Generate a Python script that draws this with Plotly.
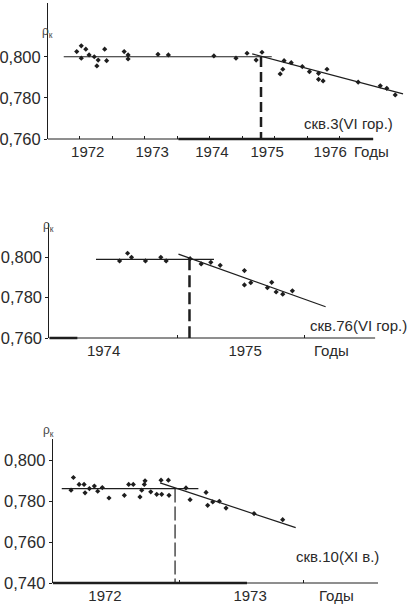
import plotly.graph_objects as go

W, H = 413, 608

# --- скв.3 (VI гор.) ---
w3_t = [1971.95, 1972.02, 1972.09, 1972.02, 1972.14, 1972.22, 1972.28, 1972.26, 1972.38, 1972.41,
        1972.68, 1972.74, 1972.74, 1973.20, 1973.36, 1974.06, 1974.40, 1974.57, 1974.71, 1974.80,
        1975.08, 1975.12, 1975.14, 1975.25, 1975.42, 1975.53, 1975.67, 1975.67, 1975.74, 1975.80,
        1976.28, 1976.62, 1976.72, 1976.85]
w3_rho = [0.8026, 0.8054, 0.8038, 0.7994, 0.8010, 0.8001, 0.7985, 0.7956, 0.8038, 0.7982,
          0.8026, 0.8010, 0.7990, 0.8013, 0.8010, 0.8005, 0.7994, 0.8018, 0.7985, 0.8023,
          0.7917, 0.7940, 0.7982, 0.7972, 0.7953, 0.7928, 0.7920, 0.7891, 0.7883, 0.7940,
          0.7877, 0.7859, 0.7847, 0.7815]
w3_flat_t = [1971.75, 1974.95]
w3_flat_rho = [0.8001, 0.8001]
w3_fall_t = [1974.65, 1976.97]
w3_fall_rho = [0.8015, 0.7820]
w3_break_t = [1974.785, 1974.785]
w3_break_rho = [0.8000, 0.7600]

# --- скв.76 (VI гор.) ---
w76_t = [1974.546, 1974.609, 1974.640, 1974.750, 1974.871, 1974.913, 1975.102, 1975.189, 1975.265,
         1975.339, 1975.530, 1975.530, 1975.580, 1975.711, 1975.745, 1975.780, 1975.832, 1975.908]
w76_rho = [0.7982, 0.8020, 0.8000, 0.7982, 0.8000, 0.7982, 0.7993, 0.7967, 0.7975,
           0.7960, 0.7934, 0.7863, 0.7874, 0.7849, 0.7876, 0.7828, 0.7817, 0.7834]
w76_flat_t = [1974.36, 1975.29]
w76_flat_rho = [0.7990, 0.7990]
w76_fall_t = [1975.01, 1976.17]
w76_fall_rho = [0.8016, 0.7755]
w76_break_t = [1975.097, 1975.097]
w76_break_rho = [0.7995, 0.7600]

# --- скв.10 (XI в.) ---
w10_t = [1972.129, 1972.148, 1972.194, 1972.234, 1972.242, 1972.277, 1972.317, 1972.344, 1972.381,
         1972.435, 1972.559, 1972.594, 1972.631, 1972.685, 1972.699, 1972.720, 1972.726, 1972.772,
         1972.820, 1972.860, 1972.855, 1972.914, 1972.919, 1973.056, 1973.089, 1973.218, 1973.231,
         1973.272, 1973.325, 1973.379, 1973.605, 1973.836]
w10_rho = [0.7853, 0.7915, 0.7881, 0.7881, 0.7840, 0.7861, 0.7873, 0.7848, 0.7866,
           0.7815, 0.7828, 0.7881, 0.7881, 0.7820, 0.7853, 0.7881, 0.7899, 0.7845,
           0.7833, 0.7833, 0.7902, 0.7902, 0.7828, 0.7864, 0.7807, 0.7842, 0.7779,
           0.7796, 0.7799, 0.7766, 0.7739, 0.7709]
w10_flat_t = [1972.054, 1973.156]
w10_flat_rho = [0.7861, 0.7861]
w10_fall_t = [1972.847, 1973.941]
w10_fall_rho = [0.7889, 0.7670]
w10_break_t = [1972.968, 1972.968]
w10_break_rho = [0.7861, 0.7400]

# tick labels
w3_years = ['1972', '1973', '1974', '1975', '1976']
w3_year_pos = [1972.12, 1973.11, 1974.03, 1974.88, 1975.85]
w3_marks = [1972, 1972.5, 1973, 1973.5, 1974, 1974.5, 1975, 1975.5, 1976]
w76_years = ['1974', '1975']
w76_year_pos = [1974.42, 1975.535]
w76_marks = [1975, 1976]
w10_years = ['1972', '1973']
w10_year_pos = [1972.403, 1973.573]
w10_marks = [1973, 1974]

INK = '#1e1e1e'
TXT = '#2a2a2a'
FONT = 'Liberation Sans, Arial, sans-serif'


def px(x):
    return x / W


def py(y):
    return 1 - y / H


panels = [
    dict(n='', xr=[1971.508, 1977.077], yr=[0.7600, 0.8263], xd=[48, 410], yd=[3, 139],
         axis_end=1976.51, thick=[1973.515, 1976.51], yt=[0.76, 0.78, 0.80],
         t=w3_t, rho=w3_rho, flat=(w3_flat_t, w3_flat_rho), fall=(w3_fall_t, w3_fall_rho),
         brk=(w3_break_t, w3_break_rho), dash=dict(width=2.5, dash='10px,5px'),
         years=w3_years, ypos=w3_year_pos, marks=w3_marks,
         label='скв.3(VI гор.)', lab_xy=(395, 113), godi=1976.48, rho_xy=(40, 22)),
    dict(n='2', xr=[1973.992, 1976.835], yr=[0.7600, 0.8170], xd=[49.3, 410], yd=[223, 338],
         axis_end=1976.56, thick=[1973.992, 1974.213], yt=[0.76, 0.78, 0.80],
         t=w76_t, rho=w76_rho, flat=(w76_flat_t, w76_flat_rho), fall=(w76_fall_t, w76_fall_rho),
         brk=(w76_break_t, w76_break_rho), dash=dict(width=2.5, dash='12px,5px'),
         years=w76_years, ypos=w76_year_pos, marks=w76_marks,
         label='скв.76(VI гор.)', lab_xy=(409, 325), godi=1976.22, rho_xy=(41, 226)),
    dict(n='3', xr=[1971.981, 1974.863], yr=[0.7400, 0.8103], xd=[52.7, 410], yd=[439, 583],
         axis_end=1974.605, thick=[1971.981, 1973.548], yt=[0.74, 0.76, 0.78, 0.80],
         t=w10_t, rho=w10_rho, flat=(w10_flat_t, w10_flat_rho), fall=(w10_fall_t, w10_fall_rho),
         brk=(w10_break_t, w10_break_rho), dash=dict(width=1.2, dash='14px,4px'),
         years=w10_years, ypos=w10_year_pos, marks=w10_marks,
         label='скв.10(XI в.)', lab_xy=(381, 567), godi=1974.27, rho_xy=(41, 441)),
]

fig = go.Figure()
layout = dict(width=W, height=H, margin=dict(l=0, r=0, t=0, b=0, autoexpand=False),
              paper_bgcolor='white', plot_bgcolor='white', showlegend=False,
              separators=', ', font=dict(family=FONT, color=TXT, size=15))
shapes = []
annotations = []

for p in panels:
    xa, ya = 'x' + p['n'], 'y' + p['n']
    # data points
    fig.add_trace(go.Scatter(x=p['t'], y=p['rho'], mode='markers', xaxis=xa, yaxis=ya,
                             marker=dict(symbol='diamond', size=4, color=INK)))
    # trend lines
    for tx, ty in (p['flat'], p['fall']):
        fig.add_trace(go.Scatter(x=tx, y=ty, mode='lines', xaxis=xa, yaxis=ya,
                                 line=dict(color=INK, width=1.2)))
    # change point
    fig.add_trace(go.Scatter(x=p['brk'][0], y=p['brk'][1], mode='lines', xaxis=xa, yaxis=ya,
                             line=dict(color=INK, **p['dash'])))

    layout['xaxis' + p['n']] = dict(
        domain=[px(p['xd'][0]), px(p['xd'][1])], range=p['xr'], anchor=ya,
        showgrid=False, zeroline=False, showline=False, automargin=False,
        tickmode='array', tickvals=p['ypos'], ticktext=p['years'], ticks='',
        tickfont=dict(size=15, color=TXT), ticklabelstandoff=2,
        minor=dict(tickmode='array', tickvals=p['marks'], ticks='inside',
                   ticklen=3, tickcolor=INK, tickwidth=1, showgrid=False),
        fixedrange=True)
    layout['yaxis' + p['n']] = dict(
        domain=[py(p['yd'][1]), py(p['yd'][0])], range=p['yr'], anchor=xa,
        showgrid=False, zeroline=False, showline=True, linecolor=INK, linewidth=1,
        automargin=False, tickmode='array', tickvals=p['yt'], tickformat='.3f',
        ticks='outside', ticklen=3, tickcolor=INK,
        tickfont=dict(size=16.5, color=TXT), fixedrange=True)

    # x axis line (stops short of the right edge) and the heavy part of it
    y_axis = py(p['yd'][1])
    shapes.append(dict(type='line', xref=xa, yref='paper',
                       x0=p['xr'][0], x1=p['axis_end'], y0=y_axis, y1=y_axis,
                       line=dict(color=INK, width=1)))
    shapes.append(dict(type='line', xref=xa, yref='paper',
                       x0=p['thick'][0], x1=p['thick'][1], y0=y_axis, y1=y_axis,
                       line=dict(color=INK, width=2.5)))

    annotations.append(dict(x=px(p['lab_xy'][0]), y=py(p['lab_xy'][1]), xref='paper', yref='paper',
                            xanchor='right', text=p['label'], showarrow=False,
                            font=dict(size=15, color=TXT)))
    annotations.append(dict(x=p['godi'], y=y_axis, xref=xa, yref='paper',
                            yanchor='top', yshift=-2, text='Годы', showarrow=False,
                            font=dict(size=15, color=TXT)))
    annotations.append(dict(x=px(p['rho_xy'][0]), y=py(p['rho_xy'][1]), xref='paper',
                            yref='paper', text='ρ<sub>к</sub>', showarrow=False,
                            font=dict(size=12, color='#444')))

layout['shapes'] = shapes
layout['annotations'] = annotations
fig.update_layout(**layout)

# the page's default 8px body margin would push the chart off the 413px window
fig.write_html('out.html', config={'displayModeBar': False},
               post_script="document.body.style.margin='0';")
